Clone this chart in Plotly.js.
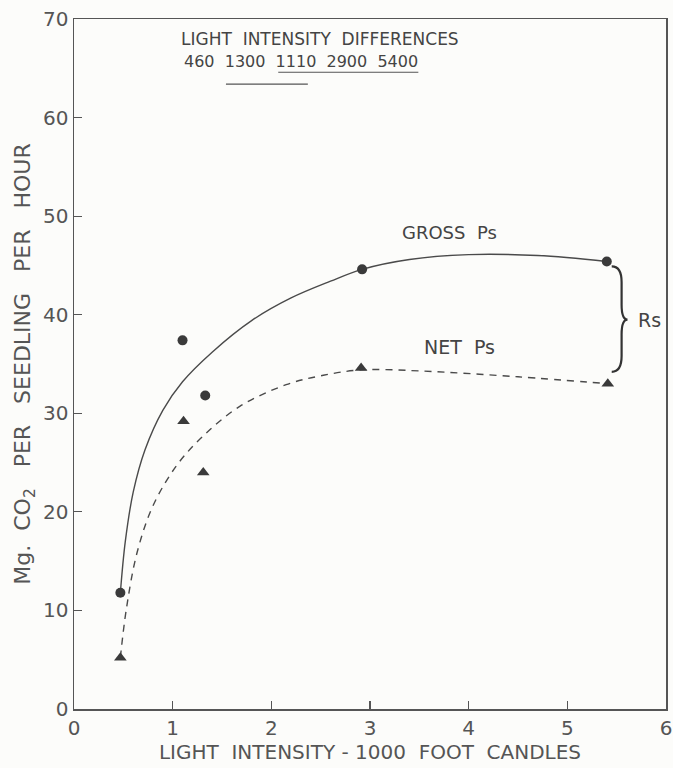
<!DOCTYPE html>
<html>
<head>
<meta charset="utf-8">
<script src="https://cdn.plot.ly/plotly-3.0.1.min.js"></script>
<style>html,body{margin:0;padding:0;background:#fcfcfa;}</style>
</head>
<body>
<div id="chart" style="width:673px;height:768px;"></div>
<script>
// Measured points
const grossX = [0.47, 1.10, 1.33, 2.92, 5.40];
const grossY = [11.8, 37.4, 31.8, 44.6, 45.4];
const netX = [0.47, 1.11, 1.31, 2.91, 5.41];
const netY = [5.2, 29.2, 24.0, 34.6, 33.0];

// Hand-drawn fitted curves
const grossCurveX = [0.47, 0.52, 0.60, 0.72, 0.90, 1.10, 1.40, 1.80, 2.20, 2.60, 2.92, 3.40, 4.00, 4.70, 5.40];
const grossCurveY = [11.8, 17.0, 22.0, 26.3, 30.3, 33.2, 36.2, 39.4, 41.7, 43.4, 44.6, 45.6, 46.1, 46.0, 45.4];
const netCurveX = [0.47, 0.53, 0.64, 0.80, 1.04, 1.31, 1.68, 2.15, 2.50, 2.91, 3.50, 4.50, 5.41];
const netCurveY = [5.2, 10.1, 15.9, 20.6, 24.7, 27.7, 30.7, 32.9, 33.8, 34.4, 34.3, 33.7, 33.0];

const xTicks = [0, 1, 2, 3, 4, 5, 6];
const yTicks = [0, 10, 20, 30, 40, 50, 60, 70];

const headerTitle = "LIGHT&nbsp;&nbsp;INTENSITY&nbsp;&nbsp;DIFFERENCES";
const headerValues = "460&nbsp;&nbsp;1300&nbsp;&nbsp;1110&nbsp;&nbsp;2900&nbsp;&nbsp;5400";

const ink = '#4a4a4a';
const font = 'DejaVu Sans, Liberation Sans, sans-serif';

const traces = [
  {x: grossCurveX, y: grossCurveY, mode: 'lines', line: {color: ink, width: 1.4, shape: 'spline', smoothing: 1}, hoverinfo: 'skip'},
  {x: netCurveX, y: netCurveY, mode: 'lines', line: {color: ink, width: 1.4, shape: 'spline', smoothing: 1, dash: '7px,6px'}, hoverinfo: 'skip'},
  {x: grossX, y: grossY, mode: 'markers', marker: {symbol: 'circle', size: 10, color: '#3a3a3a'}},
  {x: netX, y: netY, mode: 'markers', marker: {symbol: 'triangle-up', size: 11, color: '#3a3a3a'}}
];

const layout = {
  width: 673, height: 768,
  margin: {l: 74, r: 7, t: 19, b: 59},
  paper_bgcolor: '#fcfcfa', plot_bgcolor: '#fcfcfa',
  showlegend: false,
  font: {family: font, color: ink},
  xaxis: {
    range: [0, 6], tickvals: xTicks, ticktext: xTicks.map(String),
    showgrid: false, zeroline: false,
    showline: true, mirror: true, linecolor: '#555', linewidth: 1.5,
    ticks: 'inside', ticklen: 8, tickcolor: '#555', tickwidth: 1.2,
    tickfont: {size: 20, color: '#555'},
    title: {text: 'LIGHT&nbsp;&nbsp;INTENSITY - 1000&nbsp;&nbsp;FOOT&nbsp;&nbsp;CANDLES', font: {size: 20, color: '#555'}, standoff: 4}
  },
  yaxis: {
    range: [0, 70], tickvals: yTicks, ticktext: yTicks.map(String),
    showgrid: false, zeroline: false,
    showline: true, mirror: true, linecolor: '#555', linewidth: 1.5,
    ticks: 'inside', ticklen: 8, tickcolor: '#555', tickwidth: 1.2,
    tickfont: {size: 20, color: '#555'},
    title: {text: 'Mg.&nbsp;&nbsp;CO<sub>2</sub>&nbsp;&nbsp;&nbsp;PER&nbsp;&nbsp;&nbsp;SEEDLING&nbsp;&nbsp;&nbsp;PER&nbsp;&nbsp;&nbsp;HOUR', font: {size: 22, color: '#555'}, standoff: 6}
  },
  annotations: [
    {x: 2.49, y: 68.0, xref: 'x', yref: 'y', text: headerTitle, showarrow: false, font: {size: 17, color: '#444'}},
    {x: 2.30, y: 65.7, xref: 'x', yref: 'y', text: headerValues, showarrow: false, font: {size: 16, color: '#444'}},
    {x: 3.81, y: 48.3, xref: 'x', yref: 'y', text: 'GROSS&nbsp;&nbsp;Ps', showarrow: false, font: {size: 18, color: '#444'}},
    {x: 3.91, y: 36.7, xref: 'x', yref: 'y', text: 'NET&nbsp;&nbsp;Ps', showarrow: false, font: {size: 19, color: '#444'}},
    {x: 5.83, y: 39.5, xref: 'x', yref: 'y', text: 'Rs', showarrow: false, font: {size: 19, color: '#444'}}
  ],
  shapes: [
    {type: 'line', xref: 'x', yref: 'y', x0: 2.07, x1: 3.49, y0: 64.6, y1: 64.6, line: {color: '#555', width: 1.2}},
    {type: 'line', xref: 'x', yref: 'y', x0: 1.54, x1: 2.37, y0: 63.4, y1: 63.4, line: {color: '#555', width: 1.2}},
    {type: 'path', xref: 'x', yref: 'y',
     path: 'M 5.45,44.9 Q 5.55,44.9 5.55,43.3 L 5.55,41.0 Q 5.55,39.5 5.61,39.5 Q 5.55,39.5 5.55,38.0 L 5.55,35.8 Q 5.55,34.2 5.45,34.2',
     line: {color: '#333', width: 2.2}}
  ]
};

Plotly.newPlot('chart', traces, layout, {displayModeBar: false, staticPlot: true});
</script>
</body>
</html>
